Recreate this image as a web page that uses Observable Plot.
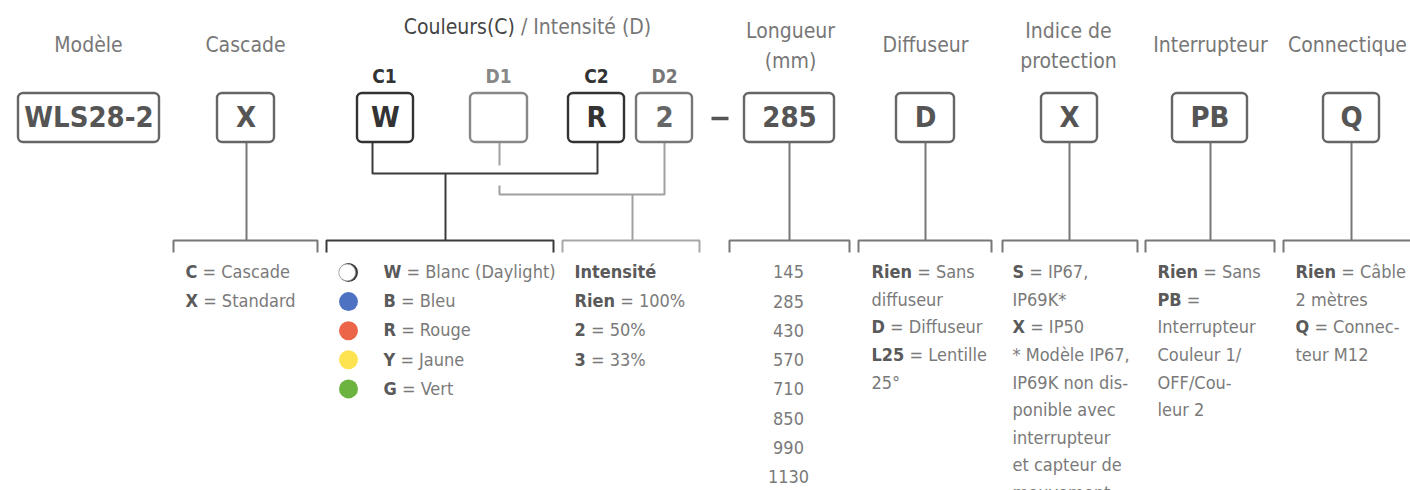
<!DOCTYPE html>
<html>
<head>
<meta charset="utf-8">
<script src="https://cdn.jsdelivr.net/npm/d3@7"></script>
<script src="https://cdn.jsdelivr.net/npm/@observablehq/plot@0.6"></script>
<style>
  html, body { margin: 0; padding: 0; background: #fff; }
  #chart { width: 1410px; height: 490px; overflow: hidden; }
</style>
</head>
<body>
<div id="chart"></div>
<script>
// ---------- data ----------
const fieldNames = ["Modèle", "Cascade", "[Couleurs(C)] / Intensité (D)", "Longueur\n(mm)", "Diffuseur", "Indice de\nprotection", "Interrupteur", "Connectique"];
const slotLabels = ["C1", "D1", "C2", "D2"];
const codeValues = ["WLS28-2", "X", "W", "", "R", "2", "285", "D", "X", "PB", "Q"];
const cascadeOptions = ["{C} = Cascade", "{X} = Standard"];
const colorOptions = ["{W} = Blanc (Daylight)", "{B} = Bleu", "{R} = Rouge", "{Y} = Jaune", "{G} = Vert"];
const colorSwatches = ["#ffffff", "#4d72c1", "#ec6549", "#fde350", "#6db33f"];
const intensityOptions = ["{Intensité}", "{Rien} = 100%", "{2} = 50%", "{3} = 33%"];
const lengthOptions = [145, 285, 430, 570, 710, 850, 990, 1130];
const diffuserOptions = ["{Rien} = Sans", "diffuseur", "{D} = Diffuseur", "{L25} = Lentille", "25°"];
const protectionOptions = ["{S} = IP67,", "IP69K*", "{X} = IP50", "* Modèle IP67,", "IP69K non dis-", "ponible avec", "interrupteur", "et capteur de", "mouvement"];
const switchOptions = ["{Rien} = Sans", "{PB} =", "Interrupteur", "Couleur 1/", "OFF/Cou-", "leur 2"];
const connectorOptions = ["{Rien} = Câble", "2 mètres", "{Q} = Connec-", "teur M12"];

// ---------- layout ----------
const FONT = "'Liberation Sans Narrow', 'DejaVu Sans Condensed', 'Arial Narrow', sans-serif";
const boxTop = 93, boxBottom = 142, boxMid = 117.5;
const boxX = [[18,159],[217,274],[357,413],[470,527],[568,624],[636,692],[744,834],[896,954],[1041,1097],[1172,1247],[1323,1379]];
const boxStroke = ["#666","#666","#333","#888","#333","#777","#666","#666","#666","#666","#666"];
const boxText = ["#555","#555","#333","#555","#333","#666","#555","#555","#555","#555","#555"];
const boxes = codeValues.map((c, i) => ({code: c, x1: boxX[i][0], x2: boxX[i][1], stroke: boxStroke[i], fill: boxText[i]}));

const headerPos = [[88,42],[245,42],[527,24],[790,43],[925,42],[1068,43],[1210,42],[1347,42]];
const headers = fieldNames.map((t, i) => ({t, x: headerPos[i][0], y: headerPos[i][1]}));
const slotPos = [384, 498, 596, 664];
const slotFill = ["#333", "#888", "#333", "#777"];
const slots = slotLabels.map((t, i) => ({t, x: slotPos[i], fill: slotFill[i]}));

const bracketY = 240, bracketEnd = 252;
const brackets = [
  {id: "casc", x1: 173, x2: 317, c: "#777"},
  {id: "col", x1: 326, x2: 553, c: "#3a3a3a"},
  {id: "int", x1: 562, x2: 699, c: "#a8a8a8"},
  {id: "len", x1: 729, x2: 849, c: "#777"},
  {id: "dif", x1: 858, x2: 991, c: "#777"},
  {id: "ip", x1: 1002, x2: 1137, c: "#777"},
  {id: "sw", x1: 1145, x2: 1274, c: "#777"},
  {id: "con", x1: 1283, x2: 1416, c: "#777"}
];
const bracketPts = brackets.flatMap(b => [
  {id: b.id, c: b.c, x: b.x1, y: bracketEnd},
  {id: b.id, c: b.c, x: b.x1, y: bracketY},
  {id: b.id, c: b.c, x: b.x2, y: bracketY},
  {id: b.id, c: b.c, x: b.x2, y: bracketEnd}
]);

const connectors = [
  {id: "vX", c: "#777", pts: [[246, boxBottom], [246, bracketY]]},
  {id: "cC", c: "#3a3a3a", pts: [[372, boxBottom], [372, 173], [597, 173], [597, boxBottom]]},
  {id: "vC", c: "#3a3a3a", pts: [[445, 173], [445, bracketY]]},
  {id: "d1a", c: "#a0a0a0", pts: [[499, boxBottom], [499, 165]]},
  {id: "dD", c: "#a0a0a0", pts: [[499, 185], [499, 194], [664, 194], [664, boxBottom]]},
  {id: "vD", c: "#a0a0a0", pts: [[632, 194], [632, bracketY]]},
  {id: "vL", c: "#777", pts: [[789, boxBottom], [789, bracketY]]},
  {id: "vDi", c: "#777", pts: [[925, boxBottom], [925, bracketY]]},
  {id: "vIP", c: "#777", pts: [[1069, boxBottom], [1069, bracketY]]},
  {id: "vSw", c: "#777", pts: [[1210, boxBottom], [1210, bracketY]]},
  {id: "vQ", c: "#777", pts: [[1351, boxBottom], [1351, bracketY]]}
];
const connectorPts = connectors.flatMap(c => c.pts.map(([x, y]) => ({id: c.id, c: c.c, x, y})));

const firstLine = 272;
function column(lines, x, step) {
  return lines.map((t, i) => ({t: String(t), x, y: firstLine + i * step}));
}
const legendLeft = [
  ...column(cascadeOptions, 185, 29.1),
  ...column(colorOptions, 383, 29.1),
  ...column(intensityOptions, 574, 29.1),
  ...column(diffuserOptions, 871, 27.6),
  ...column(protectionOptions, 1012, 27.6),
  ...column(switchOptions, 1157, 27.6),
  ...column(connectorOptions, 1295, 27.6)
];
const legendCenter = column(lengthOptions, 788, 29.3);
const swatches = colorSwatches.map((f, i) => ({f, x: 348, y: firstLine + i * 29.1}));
const whiteSwatch = swatches.filter(d => d.f === "#ffffff");
const colouredSwatches = swatches.filter(d => d.f !== "#ffffff");

const chart = Plot.plot({
  width: 1410,
  height: 490,
  margin: 0,
  x: {domain: [0, 1410], range: [0, 1410], axis: null},
  y: {domain: [0, 490], range: [0, 490], axis: null},
  style: {fontFamily: FONT, background: "#fff", overflow: "hidden"},
  marks: [
    // connectors and brackets
    Plot.line(connectorPts, {x: "x", y: "y", z: "id", stroke: "c", strokeWidth: 2, strokeLinejoin: "miter", strokeLinecap: "butt"}),
    Plot.line(bracketPts, {x: "x", y: "y", z: "id", stroke: "c", strokeWidth: 2, strokeLinejoin: "miter", strokeLinecap: "butt"}),
    // boxes
    Plot.rect(boxes, {x1: "x1", x2: "x2", y1: () => boxTop, y2: () => boxBottom, fill: "#fff", stroke: "stroke", strokeWidth: 2.4, rx: 5, ry: 5}),
    Plot.text(boxes, {x: d => (d.x1 + d.x2) / 2, y: () => boxMid, text: "code", fill: "fill", fontSize: 29, fontWeight: "bold"}),
    // separator dash between the colour block and the length
    Plot.link([{a: 711, b: 728}], {x1: "a", x2: "b", y1: () => 118, y2: () => 118, stroke: "#555", strokeWidth: 3.5}),
    // headers
    Plot.text(headers, {x: "x", y: "y", text: "t", fill: "#777", fontSize: 21, lineHeight: 1.43}),
    Plot.text(slots, {x: "x", y: () => 76, text: "t", fill: "fill", fontSize: 19, fontWeight: "bold"}),
    // colour swatches
    Plot.dot(whiteSwatch, {x: "x", y: "y", r: 9.5, fill: "#3a3a3a", stroke: "none"}),
    Plot.dot(whiteSwatch, {x: "x", y: "y", r: 8.4, dx: -1.3, fill: "#fff", stroke: "#999", strokeWidth: 0.8}),
    Plot.dot(colouredSwatches, {x: "x", y: "y", r: 9.5, fill: "f", stroke: "none"}),
    // legends
    Plot.text(legendLeft, {x: "x", y: "y", text: "t", textAnchor: "start", fill: "#7a7a7a", fontSize: 18}),
    Plot.text(legendCenter, {x: "x", y: "y", text: "t", fill: "#7a7a7a", fontSize: 18})
  ]
});

document.getElementById("chart").appendChild(chart);

// rich text: {bold} and [dark] segments
chart.querySelectorAll("text, tspan").forEach(el => {
  if (el.childNodes.length !== 1 || el.firstChild.nodeType !== 3) return;
  const s = el.textContent;
  if (!/[\{\[]/.test(s)) return;
  const parts = s.split(/(\{[^}]*\}|\[[^\]]*\])/).filter(p => p !== "");
  el.textContent = "";
  for (const p of parts) {
    if (p[0] === "{") {
      const t = document.createElementNS("http://www.w3.org/2000/svg", "tspan");
      t.setAttribute("font-weight", "bold");
      t.setAttribute("fill", "#5a5a5a");
      t.textContent = p.slice(1, -1);
      el.appendChild(t);
    } else if (p[0] === "[") {
      const t = document.createElementNS("http://www.w3.org/2000/svg", "tspan");
      t.setAttribute("fill", "#444");
      t.textContent = p.slice(1, -1);
      el.appendChild(t);
    } else {
      el.appendChild(document.createTextNode(p));
    }
  }
});
</script>
</body>
</html>
